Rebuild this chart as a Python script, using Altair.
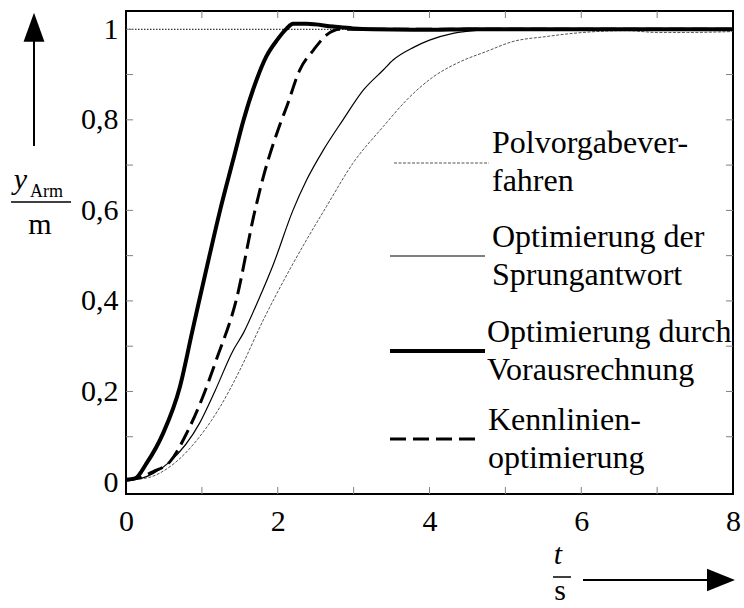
import altair as alt
import pandas as pd

# ---- data ----
t_pol = [0, 0.3, 0.58, 0.97, 1.24, 1.50, 1.81, 1.99, 2.38, 2.64, 2.99, 3.39, 3.70, 4.05, 4.40, 4.75, 5.10, 5.54, 5.89, 6.20, 6.6, 7.0, 7.4, 8.0]
y_pol = [0.004, 0.010, 0.034, 0.100, 0.166, 0.247, 0.358, 0.417, 0.535, 0.608, 0.704, 0.785, 0.844, 0.895, 0.928, 0.951, 0.973, 0.984, 0.991, 0.995, 0.997, 0.993, 0.993, 0.995]

t_spr = [0, 0.2, 0.36, 0.58, 0.97, 1.17, 1.41, 1.55, 1.74, 1.94, 2.2, 2.38, 2.60, 2.86, 3.13, 3.39, 3.52, 3.79, 4.0, 4.31, 4.66, 5.0, 6.0, 7.0, 8.0]
y_spr = [0.004, 0.008, 0.019, 0.045, 0.13, 0.20, 0.29, 0.33, 0.40, 0.48, 0.60, 0.667, 0.733, 0.80, 0.866, 0.91, 0.932, 0.96, 0.976, 0.991, 0.998, 1.0, 1.0, 1.0, 1.0]

t_vor = [0, 0.12, 0.27, 0.49, 0.71, 0.87, 0.95, 1.10, 1.24, 1.41, 1.55, 1.72, 1.85, 1.99, 2.12, 2.20, 2.38, 2.73, 2.99, 3.26, 3.78, 4.05, 4.5, 5.0, 6.0, 7.0, 8.0]
y_vor = [0.005, 0.008, 0.041, 0.108, 0.21, 0.33, 0.39, 0.50, 0.60, 0.71, 0.80, 0.888, 0.94, 0.976, 1.002, 1.012, 1.012, 1.006, 1.002, 1.0, 0.999, 0.999, 1.0, 1.0, 1.0, 1.0, 1.0]

t_ken = [0, 0.14, 0.36, 0.58, 0.80, 1.04, 1.19, 1.45, 1.70, 1.81, 2.03, 2.12, 2.29, 2.47, 2.64, 2.82, 3.0, 4.0, 5.0, 6.0, 7.0, 8.0]
y_ken = [0.004, 0.008, 0.023, 0.045, 0.108, 0.20, 0.27, 0.40, 0.60, 0.674, 0.79, 0.83, 0.91, 0.954, 0.987, 1.0, 1.0, 1.0, 1.0, 1.0, 1.0, 1.0]

x_label_values = [0, 2, 4, 6, 8]
y_label_values = [0, 0.2, 0.4, 0.6, 0.8, 1.0]
x_minor_ticks = [1, 2, 3, 4, 5, 6, 7]
y_minor_ticks = [0.1, 0.2, 0.3, 0.4, 0.5, 0.6, 0.7, 0.8, 0.9, 1.0]
legend_texts = [["Polvorgabever-", "fahren"],
                ["Optimierung der", "Sprungantwort"],
                ["Optimierung durch", "Vorausrechnung"],
                ["Kennlinien-", "optimierung"]]

W, H = 607, 483
FONT = "Liberation Serif, Times New Roman, serif"
xs = alt.Scale(domain=[0, 8], nice=False, zero=False)
ys = alt.Scale(domain=[-0.0265, 1.0404], nice=False, zero=False)
one = alt.Data(values=[{"a": 1}])

xaxis = alt.Axis(values=x_label_values, labelFont=FONT, labelFontSize=30, labelColor="black",
                 ticks=False, tickSize=0, domain=False, grid=False, labelPadding=12,
                 labelFlush=False, labelOverlap=False, title=None, format="~g")
yaxis = alt.Axis(values=y_label_values, labelFont=FONT, labelFontSize=30, labelColor="black",
                 ticks=False, tickSize=0, domain=False, grid=False, labelPadding=8,
                 labelFlush=False, labelOverlap=False, title=None, format=".1~f",
                 labelExpr="replace(datum.label, '.', ',')")


def X(field):
    return alt.X(field, scale=xs, axis=xaxis, title=None)


def Y(field):
    return alt.Y(field, scale=ys, axis=yaxis, title=None)


# reference dotted line at y=1
ref = alt.Chart(pd.DataFrame({"t": [0, 8], "y": [1, 1]})).mark_line(
    color="black", strokeWidth=1, strokeDash=[1.5, 1.5]).encode(x=X("t:Q"), y=Y("y:Q"))


def curve(t, y, **style):
    df = pd.DataFrame({"t": t, "y": y})
    return alt.Chart(df).mark_line(interpolate="monotone", **style).encode(x=X("t:Q"), y=Y("y:Q"))


c_pol = curve(t_pol, y_pol, color="#555555", strokeWidth=1, strokeDash=[3, 1.5])
c_spr = curve(t_spr, y_spr, color="black", strokeWidth=1.2)
c_ken = curve(t_ken, y_ken, color="black", strokeWidth=3, strokeDash=[16, 7])
c_vor = curve(t_vor, y_vor, color="black", strokeWidth=4)

# inward ticks
tick_col = "#808080"
xt = pd.DataFrame({"t": x_minor_ticks})
yt = pd.DataFrame({"y": y_minor_ticks})
tb = alt.Chart(xt).mark_rule(color=tick_col, strokeWidth=1).encode(
    x=X("t:Q"), y=alt.value(H), y2=alt.value(H - 7))
tt = alt.Chart(xt).mark_rule(color=tick_col, strokeWidth=1).encode(
    x=X("t:Q"), y=alt.value(0), y2=alt.value(7))
tl = alt.Chart(yt).mark_rule(color=tick_col, strokeWidth=1).encode(
    y=Y("y:Q"), x=alt.value(0), x2=alt.value(7))
tr = alt.Chart(yt).mark_rule(color=tick_col, strokeWidth=1).encode(
    y=Y("y:Q"), x=alt.value(W), x2=alt.value(W - 7))

# legend
leg_styles = [dict(color="#555555", strokeWidth=1, strokeDash=[3, 1.5]),
              dict(color="black", strokeWidth=1.2),
              dict(color="black", strokeWidth=4),
              dict(color="black", strokeWidth=3, strokeDash=[16, 7])]
leg_line_y = [152, 245, 340, 428]
leg_line_x = [(268, 363), (264, 359), (264, 359), (264, 356)]
leg_text_x = [366, 366, 361, 362]
leg_text_y = [142, 236, 331, 419]
legend_layers = []
for i in range(4):
    legend_layers.append(alt.Chart(one).mark_rule(**leg_styles[i]).encode(
        x=alt.value(leg_line_x[i][0]), x2=alt.value(leg_line_x[i][1]), y=alt.value(leg_line_y[i])))
    legend_layers.append(alt.Chart(one).mark_text(
        text=legend_texts[i], font=FONT, fontSize=32, align="left", baseline="alphabetic",
        lineHeight=38, color="black").encode(
        x=alt.value(leg_text_x[i]), y=alt.value(leg_text_y[i])))

# axis titles with arrows
y_arrow_line = alt.Chart(one).mark_rule(color="black", strokeWidth=2).encode(
    x=alt.value(-92), y=alt.value(28), y2=alt.value(135))
y_arrow_head = alt.Chart(one).mark_point(shape="M0,-1L0.72,1L-0.72,1Z", filled=True, size=841,
                                         color="black", opacity=1, strokeWidth=0).encode(
    x=alt.value(-92), y=alt.value(16.2))
y_t1 = alt.Chart(one).mark_text(text="y", font=FONT, fontSize=30, fontStyle="italic",
                                align="center", baseline="alphabetic", color="black").encode(
    x=alt.value(-105.5), y=alt.value(177.5))
y_t2 = alt.Chart(one).mark_text(text="Arm", font=FONT, fontSize=18,
                                align="left", baseline="alphabetic", color="black").encode(
    x=alt.value(-96), y=alt.value(186))
y_frac = alt.Chart(one).mark_rule(color="black", strokeWidth=1.5).encode(
    x=alt.value(-115), x2=alt.value(-55), y=alt.value(191))
y_t3 = alt.Chart(one).mark_text(text="m", font=FONT, fontSize=30,
                                align="center", baseline="alphabetic", color="black").encode(
    x=alt.value(-86), y=alt.value(223))

x_t1 = alt.Chart(one).mark_text(text="t", font=FONT, fontSize=30, fontStyle="italic",
                                align="center", baseline="alphabetic", color="black").encode(
    x=alt.value(432), y=alt.value(553))
x_frac = alt.Chart(one).mark_rule(color="black", strokeWidth=1.5).encode(
    x=alt.value(427), x2=alt.value(445), y=alt.value(566))
x_t2 = alt.Chart(one).mark_text(text="s", font=FONT, fontSize=30,
                                align="center", baseline="alphabetic", color="black").encode(
    x=alt.value(434), y=alt.value(589))
x_arrow_line = alt.Chart(one).mark_rule(color="black", strokeWidth=2).encode(
    x=alt.value(457), x2=alt.value(584), y=alt.value(569))
x_arrow_head = alt.Chart(one).mark_point(shape="M-1,-0.8L1,0L-1,0.8Z", filled=True, size=784,
                                         color="black", opacity=1, strokeWidth=0).encode(
    x=alt.value(595), y=alt.value(569))

chart = alt.layer(
    ref, tb, tt, tl, tr, c_pol, c_spr, c_ken, c_vor, *legend_layers,
    y_arrow_line, y_arrow_head, y_t1, y_t2, y_frac, y_t3,
    x_t1, x_frac, x_t2, x_arrow_line, x_arrow_head
).properties(
    width=W, height=H,
    autosize=alt.AutoSizeParams(type="none"),
    padding={"left": 126, "top": 11, "right": 11, "bottom": 114},
    background="white"
).configure_view(stroke="black", strokeWidth=2)

chart.save("out.html", embed_options={"renderer": "svg", "actions": False})
